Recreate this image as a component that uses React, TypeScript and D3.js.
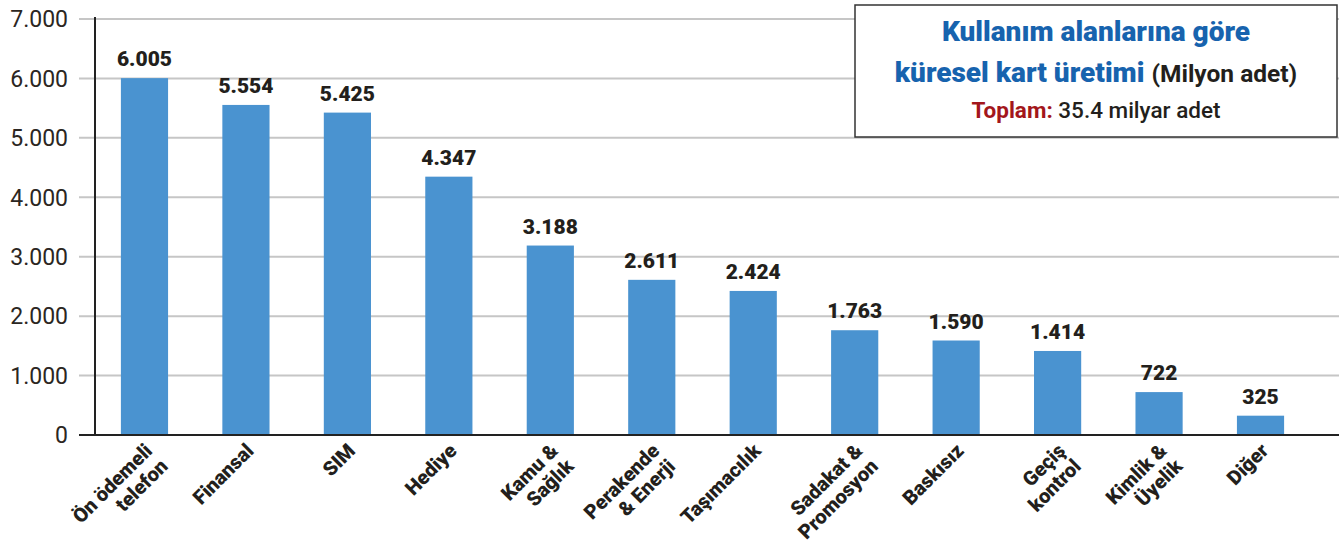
import React from "react";
import * as d3 from "d3";

// kart üretimi, milyon adet
const categories = [
  ["Ön ödemeli", "telefon"],
  ["Finansal"],
  ["SIM"],
  ["Hediye"],
  ["Kamu &", "Sağlık"],
  ["Perakende", "& Enerji"],
  ["Taşımacılık"],
  ["Sadakat &", "Promosyon"],
  ["Baskısız"],
  ["Geçiş", "kontrol"],
  ["Kimlik &", "Üyelik"],
  ["Diğer"],
];
const values = [6005, 5554, 5425, 4347, 3188, 2611, 2424, 1763, 1590, 1414, 722, 325];
const yTicks = [0, 1000, 2000, 3000, 4000, 5000, 6000, 7000];

const W = 1339;
const H = 557;
const FONT = "Roboto, 'Noto Sans', sans-serif";

const fmt = (v: number) => d3.format(",")(v).replace(/,/g, ".");

export default function App() {
  const keys = categories.map((c) => c.join(" "));
  const x = d3
    .scaleBand<string>()
    .domain(keys)
    .range([93.5, 1311.5])
    .paddingInner(0.535)
    .paddingOuter(0.27);
  const y = d3.scaleLinear().domain([0, 7000]).range([435, 19]);

  return (
    <svg
      width={W}
      height={H}
      style={{ position: "absolute", left: 0, top: 0, background: "#fff" }}
      fontFamily={FONT}
    >
      {/* grid */}
      {yTicks.map((t) => (
        <g key={t}>
          {t > 0 && (
            <line x1={79} x2={W} y1={y(t)} y2={y(t)} stroke="#c6c6c6" strokeWidth={2} />
          )}
          <text
            x={68}
            y={y(t)}
            dy="0.36em"
            textAnchor="end"
            fontSize={23}
            fill="#2b2622"
          >
            {fmt(t)}
          </text>
        </g>
      ))}

      {/* bars */}
      {values.map((v, i) => (
        <g key={keys[i]}>
          <rect
            x={x(keys[i])}
            y={y(v)}
            width={x.bandwidth()}
            height={y(0) - y(v)}
            fill="#4a93d0"
          />
          <text
            x={(x(keys[i]) as number) + x.bandwidth() / 2}
            y={y(v) - 12}
            textAnchor="middle"
            fontSize={21}
            fontWeight={900}
            fill="#231f1c"
          >
            {fmt(v)}
          </text>
        </g>
      ))}

      {/* axes */}
      <line x1={95} x2={95} y1={17} y2={435} stroke="#222" strokeWidth={2} />
      <line x1={79} x2={W} y1={435} y2={435} stroke="#222" strokeWidth={2} />

      {/* x labels */}
      {categories.map((lines, i) => {
        const cx = (x(keys[i]) as number) + x.bandwidth() / 2 + 9;
        return (
          <text
            key={keys[i]}
            transform={`translate(${cx},452) rotate(-45)`}
            textAnchor="end"
            fontSize={20}
            fontWeight={900}
            fill="#231f1c"
          >
            {lines.map((l, j) => (
              <tspan key={j} x={0} dy={j === 0 ? 0 : "1.1em"}>
                {l}
              </tspan>
            ))}
          </text>
        );
      })}

      {/* title box */}
      <rect x={855} y={5} width={482} height={132} fill="#fff" stroke="#333" strokeWidth={1.5} />
      <text x={1096} y={41} textAnchor="middle" fontSize={28} fontWeight={900} fill="#1763ae">
        Kullanım alanlarına göre
      </text>
      <text x={1096} y={82} textAnchor="middle" fontSize={28} fontWeight={900}>
        <tspan fill="#1763ae">küresel kart üretimi </tspan>
        <tspan fill="#231f1c" fontSize={24.5} fontWeight={700}>(Milyon adet)</tspan>
      </text>
      <text x={1096} y={118} textAnchor="middle" fontSize={22.5} fontWeight={500}>
        <tspan fill="#a3161b" fontWeight={700}>Toplam:</tspan>
        <tspan fill="#231f1c"> 35.4 milyar adet</tspan>
      </text>
    </svg>
  );
}
